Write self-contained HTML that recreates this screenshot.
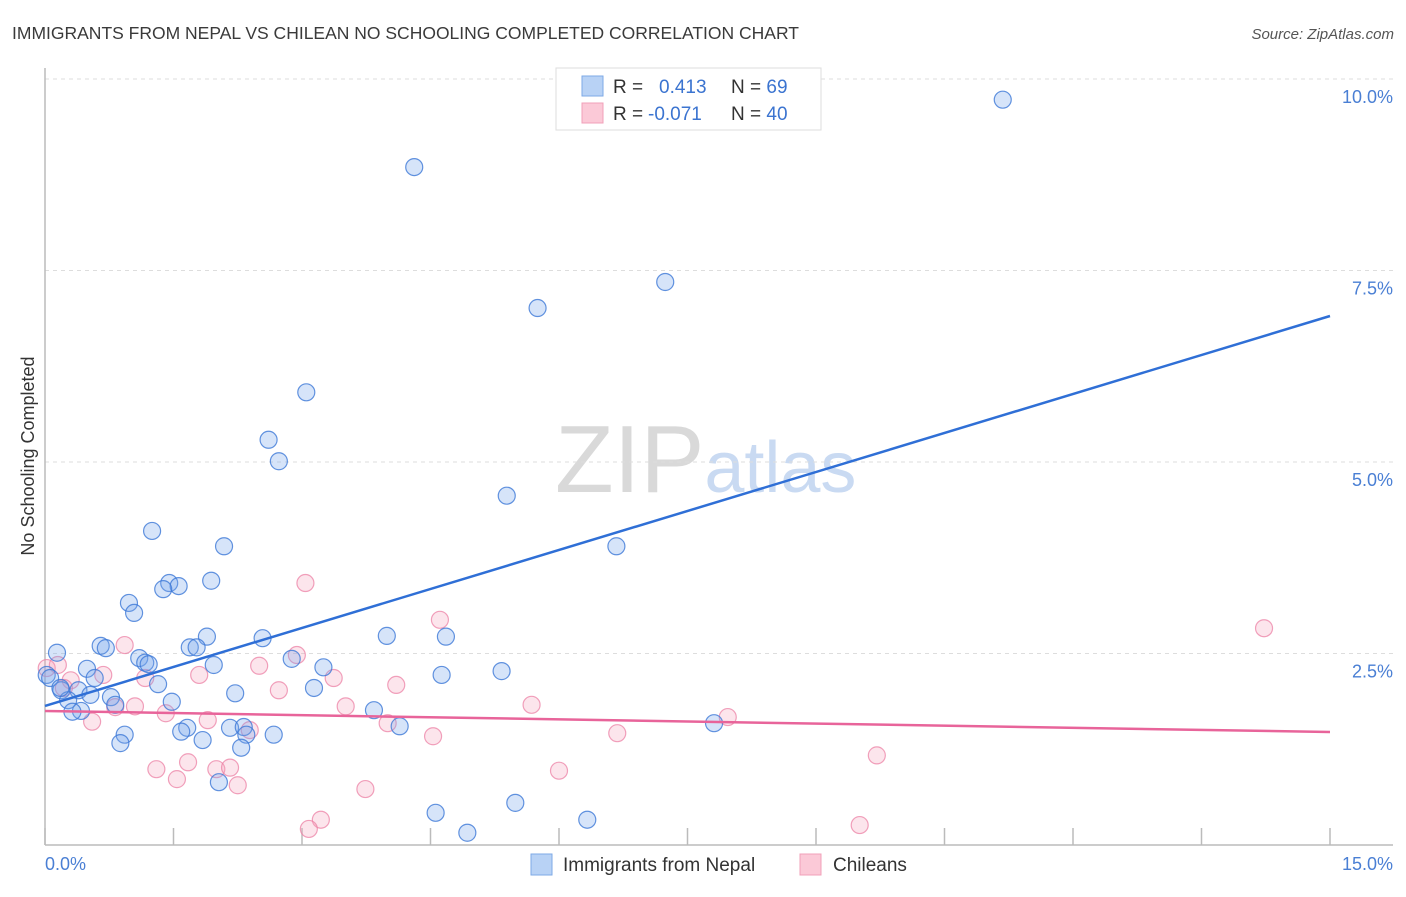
<!DOCTYPE html>
<html><head><meta charset="utf-8"><style>
body{margin:0;background:#fff;font-family:"Liberation Sans",sans-serif;}
svg text{font-family:"Liberation Sans",sans-serif;}
</style></head><body>
<svg id="chart" width="1406" height="892" xmlns="http://www.w3.org/2000/svg">
<text x="12" y="39" font-size="17.5" fill="#3a3a3a">IMMIGRANTS FROM NEPAL VS CHILEAN NO SCHOOLING COMPLETED CORRELATION CHART</text>
<text x="1394" y="39" font-size="15" fill="#555" font-style="italic" text-anchor="end">Source: ZipAtlas.com</text>
<text x="555" y="492" font-size="96" fill="#d9d9d9" font-family="Liberation Serif,serif">ZIP<tspan fill="#c9daf2" font-family="Liberation Sans,sans-serif" font-size="72">atlas</tspan></text>
<g id="grid"></g>
<line x1="45" y1="68" x2="45" y2="845" stroke="#bbb" stroke-width="1.5"/>
<line x1="45" y1="845" x2="1393" y2="845" stroke="#bbb" stroke-width="1.5"/>
<g id="ticks"></g>
<g id="ylabels"></g>
<text transform="translate(34,456) rotate(-90)" font-size="18" fill="#333" text-anchor="middle">No Schooling Completed</text>
<text x="45" y="870" font-size="18" fill="#4a7fd4">0.0%</text>
<text x="1393" y="870" font-size="18" fill="#4a7fd4" text-anchor="end">15.0%</text>
<g id="pink"></g>
<g id="blue"></g>
<g id="lines"></g>
<g>
<rect x="556" y="68" width="265" height="62" fill="#fff" stroke="#ddd"/>
<rect x="582" y="76" width="21" height="20" fill="#b8d2f5" stroke="#7ea9e6"/>
<rect x="582" y="103" width="21" height="20" fill="#fbc9d7" stroke="#f0a0b8"/>
<text x="613" y="93" font-size="19" fill="#333">R = <tspan fill="#3b74d0" x="659">0.413</tspan><tspan x="731" fill="#333">N = </tspan><tspan fill="#3b74d0">69</tspan></text>
<text x="613" y="120" font-size="19" fill="#333">R = <tspan fill="#3b74d0" x="648">-0.071</tspan><tspan x="731" fill="#333">N = </tspan><tspan fill="#3b74d0">40</tspan></text>
</g>
<g>
<rect x="531" y="854" width="21" height="21" fill="#b8d2f5" stroke="#7ea9e6"/>
<text x="563" y="871" font-size="19" fill="#333">Immigrants from Nepal</text>
<rect x="800" y="854" width="21" height="21" fill="#fbc9d7" stroke="#f0a0b8"/>
<text x="833" y="871" font-size="19" fill="#333">Chileans</text>
</g>
</svg>
<script>
const yTicks=[2.5,5.0,7.5,10.0];
const yTickLabels=["2.5%","5.0%","7.5%","10.0%"];
const xTicks=[0,1.5,3,4.5,6,7.5,9,10.5,12,13.5,15];
const nepalX=[11.18,4.31,7.24,5.75,3.05,2.61,2.73,5.39,1.25,6.67,2.09,1.94,1.45,1.56,1.38,0.98,1.04,1.89,2.54,3.99,4.68,0.65,0.71,1.69,1.77,0.14,1.10,1.17,1.21,1.97,2.88,3.25,4.63,5.33,0.49,0.58,1.32,0.19,0.39,0.53,3.14,2.22,0.77,1.48,0.82,0.02,0.27,0.42,0.32,3.84,4.14,2.16,2.32,1.66,1.59,0.93,1.84,2.67,2.35,2.29,0.88,7.81,2.03,4.56,5.49,4.93,6.33,0.06,0.18];
const nepalY=[9.73,8.85,7.35,7.01,5.91,5.29,5.01,4.56,4.10,3.90,3.90,3.45,3.42,3.38,3.34,3.16,3.03,2.72,2.70,2.73,2.72,2.60,2.57,2.58,2.58,2.51,2.44,2.38,2.36,2.35,2.43,2.32,2.22,2.27,2.30,2.18,2.10,2.02,2.02,1.96,2.05,1.98,1.93,1.87,1.83,2.22,1.89,1.75,1.74,1.76,1.55,1.53,1.54,1.53,1.48,1.44,1.37,1.44,1.44,1.27,1.33,1.59,0.82,0.42,0.55,0.16,0.33,2.18,2.05];
const chileX=[14.23,3.04,4.61,0.93,2.94,2.50,3.37,4.10,1.80,0.68,0.30,1.17,0.22,0.02,0.15,2.73,5.68,3.51,7.97,6.68,4.00,1.90,1.41,1.05,0.82,0.55,4.53,2.39,9.71,1.30,1.67,2.00,2.16,6.00,1.54,2.25,3.74,3.22,3.08,9.51];
const chileY=[2.83,3.42,2.94,2.61,2.48,2.34,2.18,2.09,2.22,2.22,2.15,2.18,2.05,2.31,2.35,2.02,1.83,1.81,1.67,1.46,1.59,1.63,1.72,1.81,1.80,1.61,1.42,1.50,1.17,0.99,1.08,0.99,1.01,0.97,0.86,0.78,0.73,0.33,0.21,0.26];
const nepalTrend=[1.815,6.906];
const chileTrend=[1.75,1.475];
const NS="http://www.w3.org/2000/svg";
const X=v=>45+v/15*1285;
const Y=v=>845-v*76.6;
function mk(tag,parent,attrs){const e=document.createElementNS(NS,tag);for(const k in attrs)e.setAttribute(k,attrs[k]);parent.appendChild(e);return e;}
const grid=document.getElementById('grid'),yl=document.getElementById('ylabels'),tk=document.getElementById('ticks');
yTicks.forEach((t,i)=>{
 const l=mk('line',grid,{x1:45,x2:1393,y1:Y(t),y2:Y(t),stroke:'#ddd','stroke-dasharray':'4,4'});
 
 
 const tx=mk('text',yl,{x:1393,y:Y(t)+24,'font-size':18,fill:'#4a7fd4','text-anchor':'end'});
 tx.textContent=yTickLabels[i];
 
 
});
xTicks.forEach(t=>{
 const l=mk('line',tk,{x1:X(t),x2:X(t),y1:828,y2:845,stroke:'#bbb','stroke-width':1.5});
 
 
});
function pts(g,xs,ys,fill,stroke,name){
 xs.forEach((x,i)=>{
  const r=(i===0&&name==='nepal-point'&&false)?12:8.5;
  const c=mk('circle',g,{cx:X(x),cy:Y(ys[i]),r:r,fill:fill,stroke:stroke,'stroke-width':1.2});
  
  
 });
}
pts(document.getElementById('pink'),chileX,chileY,'rgba(244,160,188,0.28)','rgba(236,130,165,0.75)','chileans-point');
pts(document.getElementById('blue'),nepalX,nepalY,'rgba(120,165,235,0.3)','rgba(60,120,215,0.8)','nepal-point');
const lg=document.getElementById('lines');
const bl=mk('line',lg,{x1:X(0),y1:Y(nepalTrend[0]),x2:X(15),y2:Y(nepalTrend[1]),stroke:'#2f6fd6','stroke-width':2.5});


const pl=mk('line',lg,{x1:X(0),y1:Y(chileTrend[0]),x2:X(15),y2:Y(chileTrend[1]),stroke:'#e8649a','stroke-width':2.5});


</script>
</body></html>
